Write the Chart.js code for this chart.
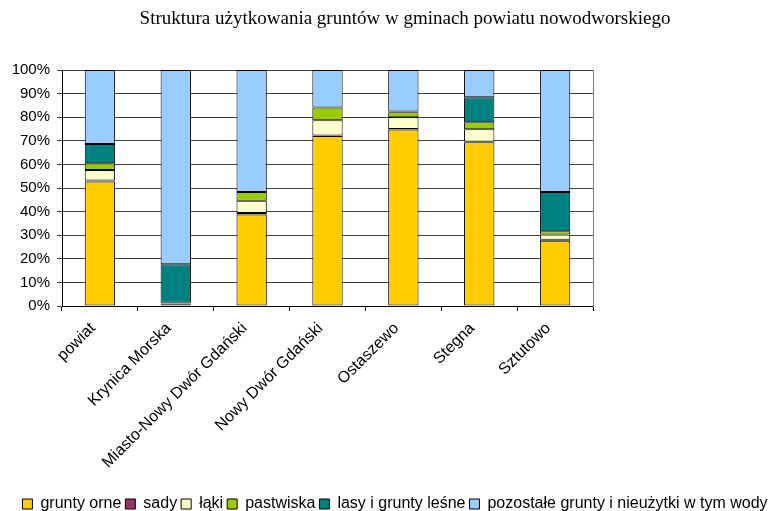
<!DOCTYPE html>
<html>
<head>
<meta charset="utf-8">
<script src="https://cdn.jsdelivr.net/npm/chart.js@4.4.0/dist/chart.umd.min.js"></script>
<style>
html,body{margin:0;padding:0;background:#fff;}
#wrap{width:768px;height:511px;position:relative;}
</style>
</head>
<body>
<div id="wrap"><canvas id="c" width="768" height="511"></canvas></div>
<script>
const chartTitle = 'Struktura użytkowania gruntów w gminach powiatu nowodworskiego';
const categories = ['powiat', 'Krynica Morska', 'Miasto-Nowy Dwór Gdański', 'Nowy Dwór Gdański', 'Ostaszewo', 'Stegna', 'Sztutowo'];
const seriesNames = ['grunty orne', 'sady', 'łąki', 'pastwiska', 'lasy i grunty leśne', 'pozostałe grunty i nieużytki w tym wody'];
const gruntyOrne = [52.8, 0.5, 38.8, 72.0, 74.8, 69.4, 27.7];
const sady       = [0.4, 0.6, 0.6, 0.2, 0.2, 0.2, 0.4];
const laki       = [4.4, 0.1, 5.2, 6.5, 5.0, 5.3, 2.2];
const pastwiska  = [2.9, 0.2, 3.7, 5.4, 2.1, 3.0, 1.4];
const lasy       = [8.1, 16.3, 0.0, 0.0, 0.3, 10.6, 16.6];
const pozostale  = [31.4, 82.3, 51.7, 15.9, 17.6, 11.5, 51.7];
const yTickValues = [0, 10, 20, 30, 40, 50, 60, 70, 80, 90, 100];

const colors = ['#FFCC00', '#993366', '#FFFFCC', '#99CC00', '#008080', '#99CCFF'];
const seriesData = [gruntyOrne, sady, laki, pastwiska, lasy, pozostale];

const titlePlugin = {
  id: 'customTitle',
  afterLayout(chart) {
    if (chart.legend) { chart.legend.left += 11; chart.legend.right += 11; }
  },
  afterDraw(chart) {
    const ctx = chart.ctx;
    ctx.save();
    ctx.font = '19px "Liberation Serif", "Times New Roman", serif';
    ctx.fillStyle = '#000';
    ctx.textAlign = 'center';
    ctx.textBaseline = 'middle';
    ctx.fillText(chartTitle, 405, 19);
    ctx.restore();
  }
};

new Chart(document.getElementById('c'), {
  type: 'bar',
  data: {
    labels: categories,
    datasets: seriesData.map((d, i) => ({
      label: seriesNames[i],
      data: d,
      backgroundColor: colors[i],
      borderColor: '#000',
      borderWidth: 1,
      borderSkipped: false,
      barPercentage: 0.4,
      categoryPercentage: 1.0
    }))
  },
  options: {
    responsive: false,
    animation: false,
    devicePixelRatio: 1,
    layout: { padding: { top: 70, left: 0, right: 0, bottom: 0 } },
    plugins: {
      title: { display: false },
      tooltip: { enabled: false },
      legend: {
        position: 'bottom',
        maxHeight: 19,
        labels: {
          boxWidth: 10,
          boxHeight: 10,
          padding: 4,
          color: '#000',
          font: { family: '"Liberation Sans", Arial, sans-serif', size: 16 }
        }
      }
    },
    scales: {
      x: {
        stacked: true,
        grid: { display: true, drawOnChartArea: false, drawTicks: true, tickLength: 5, color: '#000', offset: true },
        border: { display: true, color: '#000' },
        ticks: {
          color: '#000',
          maxRotation: 45, minRotation: 45,
          padding: 8,
          labelOffset: -7,
          font: { family: '"Liberation Sans", Arial, sans-serif', size: 16 }
        },
        afterFit(s) { s.height = 186; }
      },
      y: {
        stacked: true,
        min: 0, max: 100,
        afterBuildTicks(s) { s.ticks = yTickValues.map(v => ({ value: v })); },
        grid: { color: '#404040', tickLength: 5, drawTicks: true },
        border: { display: true, color: '#000' },
        ticks: {
          color: '#000',
          padding: 7,
          callback: v => v + '%',
          font: { family: '"Liberation Sans", Arial, sans-serif', size: 15 }
        },
        afterFit(s) { s.width = 62; }
      },
      y2: {
        type: 'linear',
        position: 'right',
        min: 0, max: 100,
        display: true,
        grid: { display: false },
        ticks: { display: false },
        border: { display: true, color: '#808080' },
        afterFit(s) { s.width = 175; }
      }
    }
  },
  plugins: [titlePlugin]
});
</script>
</body>
</html>
